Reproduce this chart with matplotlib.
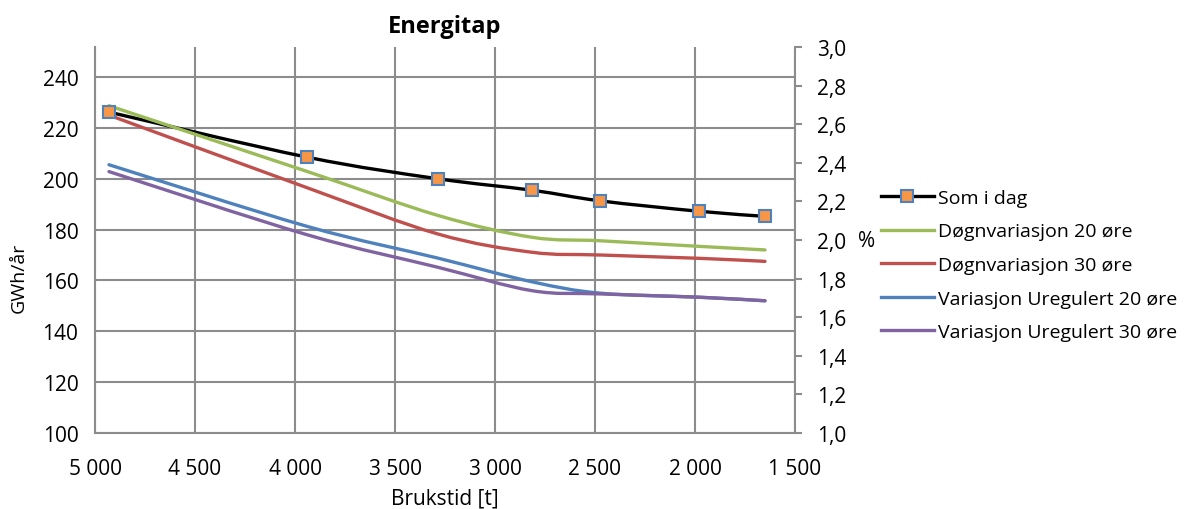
import numpy as np
import matplotlib.pyplot as plt
from matplotlib.path import Path
from matplotlib.patches import PathPatch
from matplotlib.lines import Line2D
from matplotlib.ticker import FuncFormatter

plt.rcParams['font.family'] = ['Open Sans', 'DejaVu Sans']

# brukstid [t]
brukstid = [4930, 3941, 3287, 2817, 2475, 1980, 1650]

som_i_dag = [226.2, 208.5, 200.0, 195.5, 191.3, 187.2, 185.2]
dogn_20 = [228.7, 202.9, 185.6, 177.0, 175.6, 173.4, 172.0]
dogn_30 = [225.0, 196.5, 178.3, 171.1, 170.0, 168.7, 167.5]
ureg_20 = [205.5, 181.3, 168.8, 159.5, 155.0, 153.4, 152.0]
ureg_30 = [202.8, 178.0, 165.2, 156.0, 154.7, 153.4, 152.0]

names = ['Som i dag', 'Døgnvariasjon 20 øre', 'Døgnvariasjon 30 øre',
         'Variasjon Uregulert 20 øre', 'Variasjon Uregulert 30 øre']
colors = ['#000000', '#9BBB59', '#C0504D', '#4F81BD', '#8064A2']
series = [som_i_dag, dogn_20, dogn_30, ureg_20, ureg_30]

yticks_left = [100, 120, 140, 160, 180, 200, 220, 240]
yticks_right = [1.0, 1.2, 1.4, 1.6, 1.8, 2.0, 2.2, 2.4, 2.6, 2.8, 3.0]
xticks = [5000, 4500, 4000, 3500, 3000, 2500, 2000, 1500]


def smooth_path(x, y):
    # excel-like smoothed line: bezier through the points
    p = np.column_stack([x, y]).astype(float)
    verts = [p[0]]
    codes = [Path.MOVETO]
    n = len(p)
    for i in range(n - 1):
        p0 = p[i - 1] if i > 0 else p[i]
        p3 = p[i + 2] if i + 2 < n else p[i + 1]
        c1 = p[i] + (p[i + 1] - p0) / 6
        c2 = p[i + 1] - (p3 - p[i]) / 6
        verts += [c1, c2, p[i + 1]]
        codes += [Path.CURVE4] * 3
    return Path(verts, codes)


fig = plt.figure(figsize=(11.97, 5.10), dpi=100)
ax = fig.add_axes([95 / 1197, 1 - 434 / 510, 700 / 1197, 386 / 510])
grid_c = '#8c8c8c'

for s, c in zip(series, colors):
    ax.add_patch(PathPatch(smooth_path(brukstid, s), fill=False, edgecolor=c,
                           lw=2.4, capstyle='round', zorder=3))
ax.plot(brukstid, som_i_dag, ls='none', marker='s', ms=9, mfc='#F79646',
        mec='#4F81BD', mew=1.5, zorder=4)

ax.set_xlim(5000, 1500)
ax.set_ylim(100, 251.8)
ax.set_xticks(xticks)
ax.set_yticks(yticks_left)
ax.xaxis.set_major_formatter(FuncFormatter(lambda v, p: f'{int(v):,}'.replace(',', ' ')))
ax.grid(True, color=grid_c, lw=1.5)
ax.set_axisbelow(True)
ax.tick_params(axis='x', length=0, labelsize=15, pad=18)
ax.tick_params(axis='y', length=0, labelsize=15, pad=12)
for sp in ['top', 'right']:
    ax.spines[sp].set_visible(False)
for sp in ['left', 'bottom']:
    ax.spines[sp].set_color(grid_c)
    ax.spines[sp].set_linewidth(1.5)

ax2 = ax.twinx()
ax2.set_ylim(1.0, 3.0)
ax2.set_yticks(yticks_right)
ax2.yaxis.set_major_formatter(FuncFormatter(lambda v, p: f'{v:.1f}'.replace('.', ',')))
ax2.tick_params(length=5, width=1.5, color=grid_c, labelsize=15, pad=11)
for sp in ['top', 'left', 'bottom']:
    ax2.spines[sp].set_visible(False)
ax2.spines['right'].set_color(grid_c)
ax2.spines['right'].set_linewidth(1.5)

fig.text(445 / 1197, 1 - 27 / 510, 'Energitap', ha='center', va='center',
         fontsize=17, fontweight='bold')
fig.text(445 / 1197, 1 - 499 / 510, 'Brukstid [t]', ha='center', va='center', fontsize=15)
fig.text(19 / 1197, 1 - 278 / 510, 'GWh/år', ha='center', va='center',
         rotation=90, fontsize=14)
fig.text(867 / 1197, 1 - 242 / 510, '%', ha='center', va='center', fontsize=15)

handles = [Line2D([], [], color=colors[0], lw=2.4, marker='s', ms=9,
                  mfc='#F79646', mec='#4F81BD', mew=1.5)]
handles += [Line2D([], [], color=c, lw=2.4) for c in colors[1:]]
fig.legend(handles, names, loc='center left', bbox_to_anchor=(881 / 1197, 1 - 266 / 510),
           frameon=False, fontsize=14, handlelength=2.7, handletextpad=0.25,
           labelspacing=0.8, borderpad=0, borderaxespad=0)

fig.savefig('out.png', dpi=100)
